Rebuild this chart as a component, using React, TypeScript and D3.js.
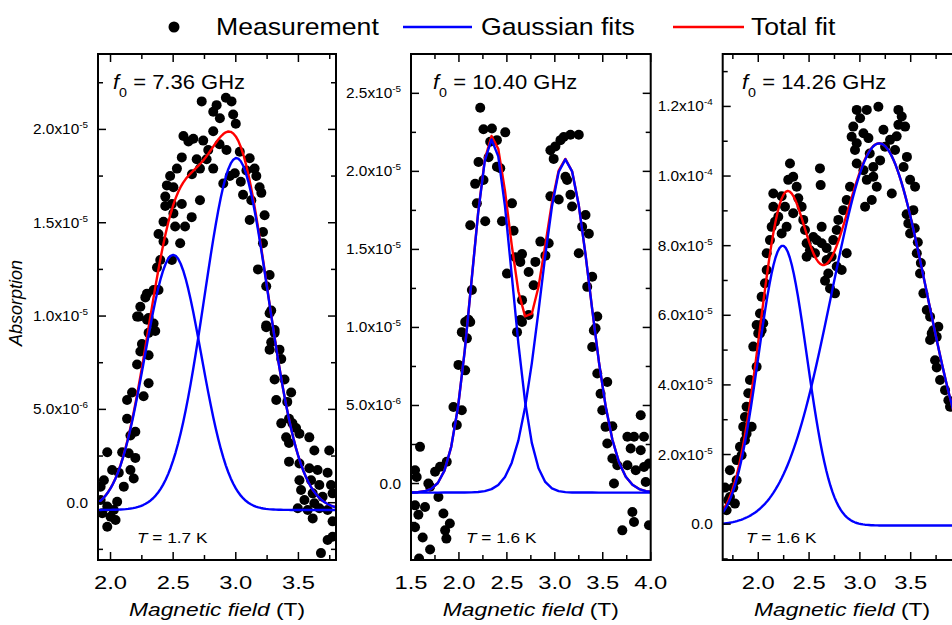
import React from 'react';
import * as d3 from 'd3';

// ---------- Data (x in T; y in units of 1e-6 for panels 1-2, 1e-5 for panel 3) ----------
const p1Points: [number, number][] = [
  [2.728,21.5],[2.921,21.7],[2.966,21.5],[2.847,21.3],[2.820,20.95],[2.873,20.6],[2.979,20.8],[3.0,20.3],[2.582,19.65],[2.661,19.5],
  [2.740,19.4],[2.820,19.9],[2.622,19.35],[2.569,18.5],[2.530,17.9],[2.476,17.5],[2.688,18.4],[2.767,18.4],[2.820,17.9],[2.714,17.9],
  [2.926,18.9],[3.032,18.8],[3.111,18.45],[3.085,17.8],[2.952,17.5],[3.058,16.5],[3.164,17.5],[3.190,16.9],[3.124,16.2],[3.204,16.6],
  [3.230,15.4],[3.111,15.15],[3.217,14.5],[3.217,13.9],[3.177,12.5],[3.270,12.2],[3.243,11.6],[3.270,10.15],[3.243,9.5],[3.310,9.25],
  [2.450,17.0],[2.502,16.9],[2.437,16.4],[2.490,16.0],[2.569,16.0],[2.437,15.9],[2.502,15.5],[2.714,16.2],[2.648,15.3],[2.516,14.8],
  [2.595,14.8],[2.423,15.05],[2.383,14.4],[2.423,14.0],[2.556,13.9],[2.490,13.0],[2.397,13.0],[2.371,12.6],[2.344,11.4],[2.383,11.4],
  [2.291,11.2],[2.278,11.0],[2.238,10.5],[2.225,9.97],[2.304,9.9],[2.304,9.1],
  [2.212,9.97],[2.291,9.8],[2.344,9.6],[2.357,9.2],[2.251,8.5],[2.238,8.1],[2.304,7.9],[2.212,7.4],[2.304,6.4],[2.264,5.7],
  [2.172,5.9],[2.132,5.5],[2.132,4.5],[2.198,3.8],[2.159,3.6],[2.093,2.7],[2.145,2.65],[2.198,2.4],[1.974,2.7],[2.013,1.75],
  [2.066,1.6],[2.159,1.75],[2.185,1.3],[1.947,1.2],[1.921,0.86],[2.106,0.86],[2.053,0.05],[1.974,-0.2],[1.934,-0.57],[2.0,-0.75],
  [2.040,-0.93],[1.974,-1.29],[2.026,-0.39],[1.921,0.14],
  [3.283,10.3],[3.243,9.4],[3.310,9.1],[3.283,8.6],[3.270,8.2],[3.349,8.2],[3.363,7.7],[3.310,6.6],[3.389,6.6],[3.442,5.9],
  [3.323,5.5],[3.411,5.4],[3.425,4.5],[3.452,4.25],[3.363,4.25],[3.402,3.5],[3.481,4.0],[3.425,3.2],[3.508,3.7],[3.587,3.5],
  [3.627,2.8],[3.746,2.8],[3.425,2.2],[3.508,2.1],[3.587,1.85],[3.653,1.75],[3.733,1.6],[3.508,1.2],[3.601,1.2],[3.667,0.95],
  [3.760,0.95],[3.521,0.68],[3.614,0.5],[3.693,0.32],[3.773,0.5],[3.548,0.14],[3.627,-0.03],[3.495,-0.3],[3.574,-0.39],[3.667,-0.3],
  [3.733,-0.39],[3.614,-0.84],[3.773,-1.0],[3.773,-1.82],[3.733,-2.0],[3.680,-2.7],
  [2.900,17.1],[2.992,17.65],[3.040,17.2],[2.650,17.6],[2.870,19.2],[2.780,18.9],[3.150,17.9],
];

const p2Points: [number, number][] = [
  [2.222,24.08],[2.256,22.7],[2.344,22.75],[2.483,22.5],[2.396,22.0],[2.326,21.9],[2.309,20.9],[2.204,20.6],[2.396,20.3],[2.431,20.2],
  [2.169,19.2],[2.256,19.45],[2.187,17.95],[2.274,16.8],[2.449,16.8],[2.553,17.95],[2.570,16.2],[2.118,16.55],[2.501,13.45],[2.588,14.5],
  [2.658,14.7],[2.640,14.2],[2.727,13.55],[2.797,14.2],[2.849,15.5],[2.936,15.4],[2.902,14.6],[2.779,12.7],[2.658,11.75],[2.727,10.8],
  [2.658,10.35],[2.606,9.7],[2.135,12.4],[2.030,9.7],[2.099,10.5],[2.988,20.8],[2.954,21.35],[3.006,21.6],[3.059,22.0],[3.093,22.2],
  [3.163,22.35],[3.250,22.35],[3.111,19.65],[3.128,19.45],[3.041,18.2],[2.954,18.4],[3.163,18.5],[3.180,17.75],[3.320,17.2],[3.285,16.45],
  [3.355,16.0],[3.250,14.75],[3.390,13.25],[3.338,12.6],[3.443,10.7],[3.425,9.95],
  [2.118,10.35],[2.065,10.35],[2.083,9.3],[1.995,7.6],[2.065,7.25],[1.943,4.9],[2.030,4.7],[1.978,3.75],[1.873,1.4],[1.803,1.07],
  [1.751,0.75],[1.681,0.0],[1.699,-0.2],[1.786,-0.86],[1.594,2.35],[1.542,0.85],[1.559,0.42],[1.542,-1.4],[1.577,-2.0],[1.646,-1.5],
  [1.542,-2.8],[1.622,-3.46],[1.699,-4.23],[1.584,-4.8],[1.838,-1.92],[1.856,-3.0],[1.905,-2.56],[1.869,-3.53],[2.640,10.47],
  [3.407,9.8],[3.390,8.75],[3.443,7.05],[3.547,6.5],[3.477,5.75],[3.495,4.7],[3.529,3.63],[3.600,3.67],[3.547,2.56],[3.600,1.6],
  [3.652,1.17],[3.617,0.0],[3.757,1.17],[3.757,3.0],[3.826,3.0],[3.896,4.38],[3.930,3.0],[3.791,2.24],[3.896,2.13],[3.844,0.85],
  [3.930,1.06],[3.982,1.28],[3.948,0.1],[3.809,-1.82],[3.826,-2.46],[3.704,-3.0],[3.982,-2.67],
];

const p3Points: [number, number][] = [
  [1.984,5.72],[2.017,5.48],[2.017,6.05],[2.033,6.53],[2.066,6.92],[2.083,7.30],[2.083,7.78],[2.115,8.16],[2.132,8.54],[2.165,8.69],
  [2.148,9.12],[2.148,9.50],[2.230,9.42],[2.263,9.12],[2.295,9.89],[2.312,10.36],[2.344,9.98],[2.378,9.69],[2.394,9.36],[2.344,8.93],
  [2.230,8.35],[2.279,8.54],[2.197,8.83],[2.427,9.12],[2.443,8.74],[2.460,8.45],[2.476,8.07],[2.509,7.87],[2.575,8.16],[2.624,8.54],
  [2.607,10.22],[2.614,9.74],[2.542,8.25],[2.558,7.78],[2.624,8.07],[2.673,7.93],[2.673,7.59],[2.689,7.20],[2.722,7.68],[2.738,8.16],
  [2.772,8.45],[2.788,8.74],[2.837,9.02],[2.870,9.31],[2.903,9.69],[2.706,6.77],[2.657,6.99],[2.755,6.63],[2.772,7.40],[2.821,7.30],
  [2.870,7.78],[2.476,7.68],[2.969,10.36],[2.952,10.75],[2.919,11.13],[2.935,11.42],[2.969,11.90],[3.002,11.66],[3.068,11.90],[3.035,11.23],
  [3.084,11.09],[2.969,10.94],[3.097,10.65],[3.132,10.26],[3.035,10.17],[3.068,9.89],[3.132,9.98],[3.166,9.69],[3.051,9.12],[3.117,9.31],
  [3.182,11.99],[3.232,11.33],[3.297,11.04],[3.199,10.45],[3.248,10.84],[3.362,11.14],[3.379,11.90],[3.412,11.71],[3.445,11.42],[3.379,11.47],
  [3.346,10.75],[3.463,10.55],[3.430,10.26],[3.314,9.50],[3.494,9.89],[3.543,9.69],
  [3.526,9.02],[3.477,8.64],[3.494,8.35],[3.560,7.78],[3.592,7.20],[3.625,6.63],[3.658,6.15],[3.691,5.96],[3.723,5.57],[3.772,5.67],
  [3.756,5.38],[3.707,5.48],[3.691,5.29],[3.740,4.71],[3.756,4.5],[3.789,4.14],[3.838,3.85],[3.871,3.56],[3.887,3.37],
  [3.460,8.9],[3.540,8.5],[3.570,8.1],[3.600,7.5],
  [2.049,5.77],[2.033,5.57],[2.0,5.48],[1.951,5.10],[1.984,4.52],[1.918,4.14],[1.902,3.76],[1.885,3.37],[1.869,3.08],[1.852,2.80],
  [1.869,2.41],[1.820,2.22],[1.836,1.98],[1.787,1.84],[1.721,1.55],[1.787,1.26],[1.754,1.05],[1.721,0.78],[1.770,0.59],[1.688,0.40],
  [1.672,1.05],[1.705,0.69],[1.935,2.80],[1.885,2.6],
];

// Gaussian fit parameters
const p1Centers = [2.50, 3.005];
const p1Sigmas = [0.225, 0.255];
const p1Amps = [13.67, 18.86];
const p1Offset = -0.39;

const p2Centers = [2.344, 3.111];
const p2Sigmas = [0.21, 0.255];
const p2Amps = [22.63, 21.35];
const p2Offset = -0.58;

const p3Centers = [2.24, 3.191];
const p3Sigmas = [0.238, 0.47];
const p3Amps = [8.04, 10.98];
const p3Offset = -0.04;

// Ticks and labels
const p1XTicks = [2.0, 2.5, 3.0, 3.5];
const p1XMinor = [2.25, 2.75, 3.25, 3.75];
const p1YTicks = [0, 5, 10, 15, 20];
const p1YMinor = [-2.5, 2.5, 7.5, 12.5, 17.5, 22.5];
const p1YLabels: [string, string][] = [['0.0', ''], ['5.0x10', '-6'], ['1.0x10', '-5'], ['1.5x10', '-5'], ['2.0x10', '-5']];

const p2XTicks = [1.5, 2.0, 2.5, 3.0, 3.5, 4.0];
const p2XMinor = [1.75, 2.25, 2.75, 3.25, 3.75];
const p2YTicks = [0, 5, 10, 15, 20, 25];
const p2YMinor = [-2.5, 2.5, 7.5, 12.5, 17.5, 22.5];
const p2YLabels: [string, string][] = [['0.0', ''], ['5.0x10', '-6'], ['1.0x10', '-5'], ['1.5x10', '-5'], ['2.0x10', '-5'], ['2.5x10', '-5']];

const p3XTicks = [2.0, 2.5, 3.0, 3.5];
const p3XMinor = [1.75, 2.25, 2.75, 3.25, 3.75];
const p3YTicks = [0, 2, 4, 6, 8, 10, 12];
const p3YMinor = [-1, 1, 3, 5, 7, 9, 11, 13];
const p3YLabels: [string, string][] = [['0.0', ''], ['2.0x10', '-5'], ['4.0x10', '-5'], ['6.0x10', '-5'], ['8.0x10', '-5'], ['1.0x10', '-4'], ['1.2x10', '-4']];

const freqLabels = ['7.36', '10.40', '14.26'];
const tempLabels = ['1.7', '1.6', '1.6'];
const legendLabels = ['Measurement', 'Gaussian fits', 'Total fit'];

// ---------- Layout ----------
const FONT = "'Liberation Sans', Arial, Helvetica, sans-serif";
const BLUE = '#0000ff';
const RED = '#ff0000';

const panels = [
  { left: 98, right: 336, top: 54, bottom: 560, xDom: [1.9, 3.8], yDom: [-3.07, 24.04], pts: p1Points,
    centers: p1Centers, sigmas: p1Sigmas, amps: p1Amps, offset: p1Offset, step: 0.02,
    xTicks: p1XTicks, xMinor: p1XMinor, yTicks: p1YTicks, yMinor: p1YMinor, yLabels: p1YLabels, fx: 113, tx: 137 },
  { left: 411, right: 650.7, top: 54, bottom: 560, xDom: [1.5, 4.0], yDom: [-4.9, 27.52], pts: p2Points,
    centers: p2Centers, sigmas: p2Sigmas, amps: p2Amps, offset: p2Offset, step: 0.07,
    xTicks: p2XTicks, xMinor: p2XMinor, yTicks: p2YTicks, yMinor: p2YMinor, yLabels: p2YLabels, fx: 433, tx: 466 },
  { left: 722.7, right: 961.5, top: 54, bottom: 560, xDom: [1.65, 4.0], yDom: [-1.03, 13.506], pts: p3Points,
    centers: p3Centers, sigmas: p3Sigmas, amps: p3Amps, offset: p3Offset, step: 0.02,
    xTicks: p3XTicks, xMinor: p3XMinor, yTicks: p3YTicks, yMinor: p3YMinor, yLabels: p3YLabels, fx: 742, tx: 746 },
];

function ST(props: any) {
  const { x, y, sx = 1, anchor = 'start', size, italic, children, rot } = props;
  const tr = rot ? `translate(${x},${y}) rotate(${rot}) scale(1,${sx})` : `translate(${x},${y}) scale(${sx},1)`;
  return (
    <text transform={tr} textAnchor={anchor} fontSize={size} fontStyle={italic ? 'italic' : 'normal'} fontFamily={FONT} fill="#000">
      {children}
    </text>
  );
}

function Panel({ p, idx }: { p: any; idx: number }) {
  const x = d3.scaleLinear().domain(p.xDom).range([p.left, p.right]);
  const y = d3.scaleLinear().domain(p.yDom).range([p.bottom, p.top]);
  const gauss = (v: number, i: number) => p.amps[i] * Math.exp(-((v - p.centers[i]) ** 2) / (2 * p.sigmas[i] ** 2));
  const xs = d3.range(p.xDom[0], p.xDom[1] + p.step * 0.5, p.step);
  const line = d3.line<number[]>().x((d) => x(d[0])).y((d) => y(d[1]));
  const g1 = xs.map((v) => [v, p.offset + gauss(v, 0)]);
  const g2 = xs.map((v) => [v, p.offset + gauss(v, 1)]);
  const tot = xs.map((v) => [v, p.offset + gauss(v, 0) + gauss(v, 1)]);
  const clipId = `clip${idx}`;
  const MAJ = 8, MIN = 5;
  return (
    <g>
      <defs>
        <clipPath id={clipId}>
          <rect x={p.left} y={p.top} width={p.right - p.left} height={p.bottom - p.top} />
        </clipPath>
      </defs>
      <g clipPath={`url(#${clipId})`}>
        {p.pts.map((d: number[], i: number) => (
          <circle key={i} cx={x(d[0])} cy={y(d[1])} r={5} fill="#000" />
        ))}
        <path d={line(tot) || ''} fill="none" stroke={RED} strokeWidth={2.4} strokeLinejoin="round" />
        <path d={line(g1) || ''} fill="none" stroke={BLUE} strokeWidth={2.4} strokeLinejoin="round" />
        <path d={line(g2) || ''} fill="none" stroke={BLUE} strokeWidth={2.4} strokeLinejoin="round" />
      </g>
      {/* ticks */}
      <g stroke="#000" strokeWidth={1.5}>
        {p.xTicks.map((t: number) => (
          <g key={'xt' + t}>
            <line x1={x(t)} x2={x(t)} y1={p.bottom} y2={p.bottom - MAJ} />
            <line x1={x(t)} x2={x(t)} y1={p.top} y2={p.top + MAJ} />
          </g>
        ))}
        {p.xMinor.map((t: number) => (
          <g key={'xm' + t}>
            <line x1={x(t)} x2={x(t)} y1={p.bottom} y2={p.bottom - MIN} />
            <line x1={x(t)} x2={x(t)} y1={p.top} y2={p.top + MIN} />
          </g>
        ))}
        {p.yTicks.map((t: number) => (
          <g key={'yt' + t}>
            <line x1={p.left} x2={p.left + MAJ} y1={y(t)} y2={y(t)} />
            <line x1={p.right} x2={p.right - MAJ} y1={y(t)} y2={y(t)} />
          </g>
        ))}
        {p.yMinor.map((t: number) => (
          <g key={'ym' + t}>
            <line x1={p.left} x2={p.left + MIN} y1={y(t)} y2={y(t)} />
            <line x1={p.right} x2={p.right - MIN} y1={y(t)} y2={y(t)} />
          </g>
        ))}
      </g>
      <rect x={p.left} y={p.top} width={p.right - p.left} height={p.bottom - p.top} fill="none" stroke="#000" strokeWidth={2} />
      {/* tick labels */}
      {p.xTicks.map((t: number) => (
        <ST key={'xl' + t} x={x(t)} y={589} sx={1.25} anchor="middle" size={19}>{t.toFixed(1)}</ST>
      ))}
      {p.yTicks.map((t: number, i: number) => (
        <ST key={'yl' + t} x={p.left - 10} y={y(t) + 5} sx={1.1} anchor="end" size={14}>
          <tspan>{p.yLabels[i][0]}</tspan>
          {p.yLabels[i][1] ? <tspan dy={-6} fontSize={9}>{p.yLabels[i][1]}</tspan> : null}
        </ST>
      ))}
      <ST x={(p.left + p.right) / 2} y={616} sx={1.2} anchor="middle" size={19}>
        <tspan fontStyle="italic">Magnetic field</tspan>
        <tspan> (T)</tspan>
      </ST>
      <ST x={p.fx} y={89} sx={1.1} size={20}>
        <tspan fontStyle="italic">f</tspan>
        <tspan dy={8} fontSize={13}>0</tspan>
        <tspan dy={-8}> = {freqLabels[idx]} GHz</tspan>
      </ST>
      <ST x={p.tx} y={543} sx={1.15} size={15}>
        <tspan fontStyle="italic">T</tspan>
        <tspan> = {tempLabels[idx]} K</tspan>
      </ST>
    </g>
  );
}

export default function App() {
  return (
    <svg width={952} height={625} style={{ position: 'absolute', left: 0, top: 0, background: '#fff' }}>
      <rect x={0} y={0} width={952} height={625} fill="#fff" />
      {panels.map((p, i) => (
        <Panel key={i} p={p} idx={i} />
      ))}
      <ST x={22} y={303} rot={-90} sx={1} anchor="middle" size={18} italic>Absorption</ST>
      {/* legend */}
      <circle cx={174} cy={27} r={5.5} fill="#000" />
      <ST x={216} y={35} sx={1.11} size={24}>{legendLabels[0]}</ST>
      <line x1={403} x2={472} y1={27} y2={27} stroke={BLUE} strokeWidth={2.5} />
      <ST x={481} y={35} sx={1.11} size={24}>{legendLabels[1]}</ST>
      <line x1={673} x2={744} y1={27} y2={27} stroke={RED} strokeWidth={2.5} />
      <ST x={751} y={35} sx={1.11} size={24}>{legendLabels[2]}</ST>
    </svg>
  );
}
